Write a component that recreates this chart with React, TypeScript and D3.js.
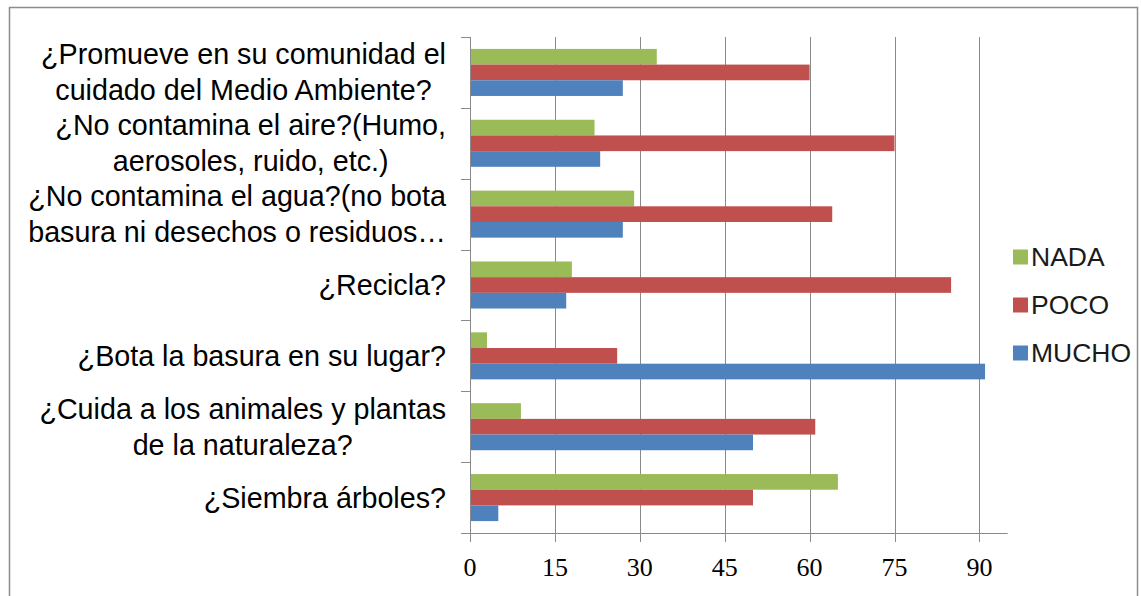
import React, { useEffect, useRef } from "react";
import * as d3 from "d3";

const categories: string[][] = [
  ["¿Promueve en su comunidad el", "cuidado del Medio Ambiente?"],
  ["¿No contamina el aire?(Humo,", "aerosoles, ruido, etc.)"],
  ["¿No contamina el agua?(no bota", "basura ni desechos o residuos…"],
  ["¿Recicla?"],
  ["¿Bota la basura en su lugar?"],
  ["¿Cuida a los animales y plantas", "de la naturaleza?"],
  ["¿Siembra árboles?"],
];
const seriesNames = ["NADA", "POCO", "MUCHO"];
const nada = [33, 22, 29, 18, 3, 9, 65];
const poco = [60, 75, 64, 85, 26, 61, 50];
const mucho = [27, 23, 27, 17, 91, 50, 5];
const seriesValues = [nada, poco, mucho];
const colors = ["#9BBB59", "#C0504D", "#4F81BD"];
const xTicks = [0, 15, 30, 45, 60, 75, 90];

const W = 1141;
const H = 596;

export default function App() {
  const ref = useRef<SVGSVGElement | null>(null);

  useEffect(() => {
    const svg = d3.select(ref.current);
    svg.selectAll("*").remove();

    const left = 470;
    const top = 37;
    const bottom = 533;
    const x = d3.scaleLinear().domain([0, 95]).range([left, left + 95 * 5.66]);
    const idx = categories.map((_, i) => String(i));
    const y = d3.scaleBand().domain(idx).range([top, bottom]).padding(0);
    const ys = d3
      .scaleBand()
      .domain(seriesNames)
      .range([0, y.bandwidth()])
      .paddingInner(0)
      .paddingOuter(0.76);

    const grid = "#8a8a8a";

    // frame
    svg
      .append("rect")
      .attr("x", 9.5)
      .attr("y", 7.5)
      .attr("width", 1128)
      .attr("height", 620)
      .attr("fill", "#fff")
      .attr("stroke", "#8c8c8c")
      .attr("stroke-width", 1.5);

    // gridlines
    svg
      .append("g")
      .selectAll("line")
      .data(xTicks.filter((t) => t > 0))
      .join("line")
      .attr("x1", (d) => Math.round(x(d)) + 0.5)
      .attr("x2", (d) => Math.round(x(d)) + 0.5)
      .attr("y1", top)
      .attr("y2", bottom)
      .attr("stroke", grid)
      .attr("stroke-width", 1);

    // bars
    seriesNames.forEach((s, si) => {
      svg
        .append("g")
        .selectAll("rect")
        .data(seriesValues[si])
        .join("rect")
        .attr("x", x(0))
        .attr("y", (_, i) => (y(String(i)) as number) + (ys(s) as number))
        .attr("width", (d) => x(d) - x(0))
        .attr("height", ys.bandwidth())
        .attr("fill", colors[si]);
    });

    // y axis line & category ticks
    svg
      .append("line")
      .attr("x1", x(0) + 0.5)
      .attr("x2", x(0) + 0.5)
      .attr("y1", top)
      .attr("y2", bottom)
      .attr("stroke", grid);
    const bounds = idx.map((d) => y(d) as number).concat([bottom]);
    svg
      .append("g")
      .selectAll("line")
      .data(bounds)
      .join("line")
      .attr("x1", x(0) - 9)
      .attr("x2", x(0))
      .attr("y1", (d) => Math.round(d) + 0.5)
      .attr("y2", (d) => Math.round(d) + 0.5)
      .attr("stroke", grid);

    // x axis
    svg
      .append("line")
      .attr("x1", x(0) - 9)
      .attr("x2", x(95))
      .attr("y1", bottom + 0.5)
      .attr("y2", bottom + 0.5)
      .attr("stroke", grid);
    svg
      .append("g")
      .selectAll("line")
      .data(xTicks)
      .join("line")
      .attr("x1", (d) => Math.round(x(d)) + 0.5)
      .attr("x2", (d) => Math.round(x(d)) + 0.5)
      .attr("y1", bottom)
      .attr("y2", bottom + 9)
      .attr("stroke", grid);
    svg
      .append("g")
      .selectAll("text")
      .data(xTicks)
      .join("text")
      .attr("x", (d) => x(d))
      .attr("y", 567)
      .attr("text-anchor", "middle")
      .attr("dominant-baseline", "central")
      .attr("font-family", "'Liberation Serif', 'DejaVu Serif', serif")
      .attr("font-size", 26)
      .attr("fill", "#000")
      .text((d) => String(d));

    // category labels
    const labelRight = 446;
    const lineH = 36;
    categories.forEach((lines, i) => {
      const cy = (y(String(i)) as number) + y.bandwidth() / 2;
      const g = svg.append("g");
      const texts = lines.map((ln, li) =>
        g
          .append("text")
          .attr("y", cy + (li - (lines.length - 1) / 2) * lineH)
          .attr("text-anchor", "middle")
          .attr("dominant-baseline", "central")
          .attr("font-family", "'Liberation Sans', Arial, sans-serif")
          .attr("font-size", 28.7)
          .attr("fill", "#000")
          .text(ln)
      );
      const widths = texts.map((t) => (t.node() as SVGTextElement).getComputedTextLength());
      const maxW = d3.max(widths) || 0;
      texts.forEach((t) => t.attr("x", labelRight - maxW / 2));
    });

    // legend
    const legY = [257, 305, 353];
    seriesNames.forEach((s, si) => {
      svg
        .append("rect")
        .attr("x", 1013)
        .attr("y", legY[si] - 7.5)
        .attr("width", 15)
        .attr("height", 15)
        .attr("fill", colors[si]);
      svg
        .append("text")
        .attr("x", 1031)
        .attr("y", legY[si])
        .attr("dominant-baseline", "central")
        .attr("font-family", "'Liberation Sans', Arial, sans-serif")
        .attr("font-size", 26.5)
        .attr("fill", "#1a1a1a")
        .text(s);
    });
  }, []);

  return (
    <svg
      ref={ref}
      width={W}
      height={H}
      style={{ position: "absolute", left: 0, top: 0, background: "#fff" }}
    />
  );
}
